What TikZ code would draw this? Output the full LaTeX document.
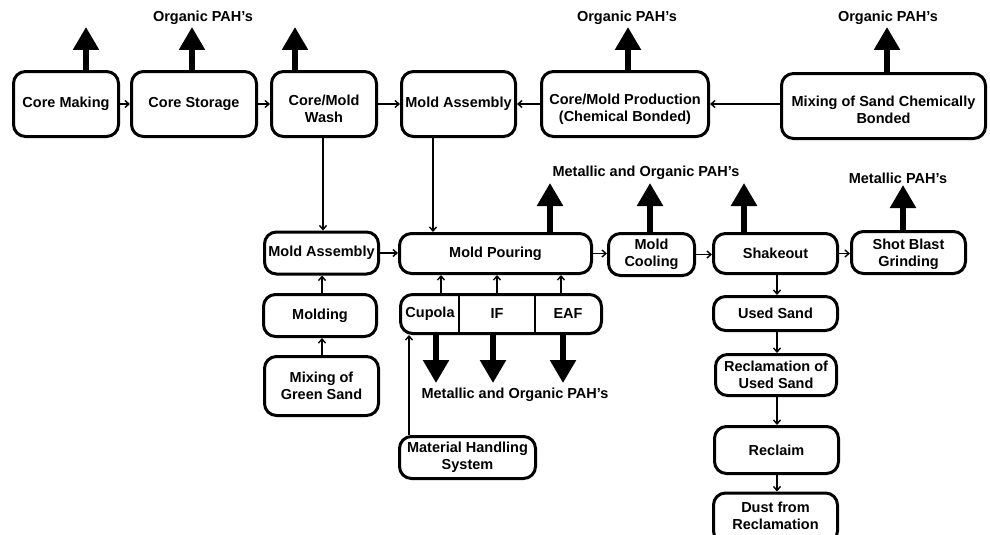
\documentclass[tikz,border=0pt]{standalone}
\usepackage{fontspec}
\setmainfont{Liberation Sans}
\usetikzlibrary{arrows.meta}
\tikzset{
  box/.style={draw, line width=3pt, rounded corners=12pt, align=center, inner sep=2pt,
    font=\bfseries\fontsize{14.5}{17}\selectfont},
  lbl/.style={font=\bfseries\fontsize{14.5}{17}\selectfont, inner sep=0pt},
  plain/.style={font=\bfseries\fontsize{14.5}{17}\selectfont, inner sep=0pt, align=center},
  conn/.style={line width=1.4pt, -{Straight Barb[length=4pt,width=7pt]}},
  emit/.style={line width=5.5pt, -{Triangle[length=23pt,width=25pt]}},
}
\begin{document}
\begin{tikzpicture}[x=1pt,y=-1pt]
\clip (0,0) rectangle (990,535);
% top row
\node[box, minimum width=105, minimum height=65] (cm) at (66,104) {Core Making};
\node[box, minimum width=125, minimum height=65] (cs) at (194,104) {Core Storage};
\node[box, minimum width=105, minimum height=65] (cw) at (324,104) {};
\node[plain] (cwt) at (324,108.5) {Core/Mold\\Wash};
\node[box, minimum width=114, minimum height=65] (ma1) at (458.5,104) {Mold Assembly};
\node[box, minimum width=167, minimum height=65] (cp) at (625,104) {};
\node[plain] (cpt) at (625,109) {Core/Mold Production\\(Chemical Bonded)};
\node[box, minimum width=204, minimum height=65] (mx) at (883.5,106) {};
\node[plain] (mxt) at (883.5,110) {Mixing of Sand Chemically\\Bonded};
% middle row
\node[box, minimum width=114, minimum height=42] (ma2) at (321.5,253) {Mold Assembly};
\node[box, minimum width=192, minimum height=40] (mp) at (495.5,253.5) {Mold Pouring};
\node[box, minimum width=86, minimum height=42] (mc) at (651.5,254.5) {Mold\\Cooling};
\node[box, minimum width=124, minimum height=40] (sh) at (775.5,253.5) {Shakeout};
\node[box, minimum width=114, minimum height=42] (sb) at (908.5,252.5) {};
\node[plain] (sbt) at (908.5,254.5) {Shot Blast\\Grinding};
\node[box, minimum width=113, minimum height=42] (mo) at (320,315.5) {Molding};
\node[box, minimum width=114, minimum height=59] (mg) at (321.5,386) {Mixing of\\Green Sand};
\node[box, minimum width=201, minimum height=39] (furn) at (501,314) {};
\node[box, minimum width=136, minimum height=42] (mh) at (467.5,457.5) {Material Handling\\System};
% furnace dividers and labels
\coordinate (d1) at (459,314);
\coordinate (d2) at (535,314);
\draw[line width=1.8pt] (d1 |- furn.north) -- (d1 |- furn.south);
\draw[line width=1.8pt] (d2 |- furn.north) -- (d2 |- furn.south);
\node[plain] (cup) at (430,314) {Cupola};
\node[plain] (if) at (497,314) {IF};
\node[plain] (eaf) at (568,314) {EAF};
% sand column
\node[box, minimum width=124, minimum height=34] (us) at (775.5,313.5) {Used Sand};
\node[box, minimum width=121, minimum height=41] (rus) at (776,375) {Reclamation of\\Used Sand};
\node[box, minimum width=124, minimum height=47] (rc) at (776.5,450) {Reclaim};
\node[box, minimum width=124, minimum height=50] (du) at (775.5,518) {};
\node[plain] (dut) at (775.5,516) {Dust from\\Reclamation};
% thin connectors, top row
\draw[conn] (cm.east) -- (cs.west);
\draw[conn] (cs.east) -- (cw.west);
\draw[conn] (cw.east) -- (ma1.west);
\draw[conn] (cp.west) -- (ma1.east);
\draw[conn] (mx.west |- cp.east) -- (cp.east);
% vertical connectors
\coordinate (v1) at (323,0);
\coordinate (v2) at (433,0);
\draw[conn] (v1 |- cw.south) -- (v1 |- ma2.north);
\draw[conn] (v2 |- ma1.south) -- (v2 |- mp.north);
\draw[conn] (ma2.east) -- (ma2.east -| mp.west);
\coordinate (v3) at (322,0);
\draw[conn] (v3 |- mo.north) -- (v3 |- ma2.south);
\draw[conn] (v3 |- mg.north) -- (v3 |- mo.south);
\coordinate (f1) at (441,0);
\coordinate (f2) at (497,0);
\coordinate (f3) at (561,0);
\draw[conn] (f1 |- furn.north) -- (f1 |- mp.south);
\draw[conn] (f2 |- furn.north) -- (f2 |- mp.south);
\draw[conn] (f3 |- furn.north) -- (f3 |- mp.south);
\coordinate (m1) at (409,0);
\draw[conn] (m1 |- mh.north) -- (m1 |- furn.south);
\draw[conn] (mp.east) -- (mp.east -| mc.west);
\draw[conn] (mc.east) -- (mc.east -| sh.west);
\draw[conn] (sh.east) -- (sh.east -| sb.west);
\coordinate (s1) at (777,0);
\draw[conn] (s1 |- sh.south) -- (s1 |- us.north);
\draw[conn] (s1 |- us.south) -- (s1 |- rus.north);
\draw[conn] (s1 |- rus.south) -- (s1 |- rc.north);
\draw[conn] (s1 |- rc.south) -- (s1 |- du.north);
% emission arrows
\coordinate (t1) at (86,27);
\coordinate (t2) at (192,27);
\coordinate (t3) at (295,27);
\coordinate (t4) at (628,27);
\coordinate (t5) at (887,27);
\coordinate (t6) at (550,183);
\coordinate (t7) at (650,183);
\coordinate (t8) at (744,183);
\coordinate (t9) at (903,185);
\coordinate (b1) at (436,383);
\coordinate (b2) at (493,383);
\coordinate (b3) at (563,383);
\draw[emit] (t1 |- cm.north) -- (t1);
\draw[emit] (t2 |- cs.north) -- (t2);
\draw[emit] (t3 |- cw.north) -- (t3);
\draw[emit] (t4 |- cp.north) -- (t4);
\draw[emit] (t5 |- mx.north) -- (t5);
\draw[emit] (t6 |- mp.north) -- (t6);
\draw[emit] (t7 |- mc.north) -- (t7);
\draw[emit] (t8 |- sh.north) -- (t8);
\draw[emit] (t9 |- sb.north) -- (t9);
\draw[emit] (b1 |- furn.south) -- (b1);
\draw[emit] (b2 |- furn.south) -- (b2);
\draw[emit] (b3 |- furn.south) -- (b3);
% labels
\node[lbl] (l1) at (203,18) {Organic PAH’s};
\node[lbl] (l2) at (627,18) {Organic PAH’s};
\node[lbl] (l3) at (888,18) {Organic PAH’s};
\node[lbl] (l4) at (646,173) {Metallic and Organic PAH’s};
\node[lbl] (l5) at (898,178) {Metallic PAH’s};
\node[lbl] (l6) at (515,395) {Metallic and Organic PAH’s};
\end{tikzpicture}
\end{document}
